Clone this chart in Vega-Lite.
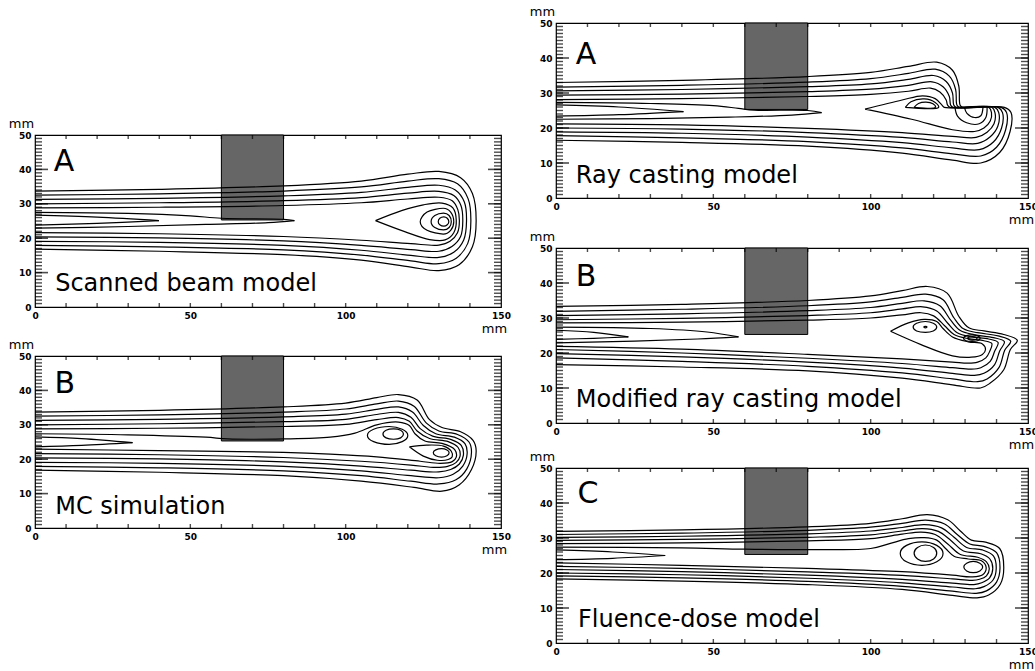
{
"$schema":"https://vega.github.io/schema/vega-lite/v6.json",
"background":"white",
"padding":{"left":7,"top":4,"right":0,"bottom":0},
"spacing":17,
"datasets":{
"coll":[{"x1":60,"x2":80,"y1":25.3,"y2":50}],
"yt":[{"v":1},{"v":2},{"v":3},{"v":4},{"v":5},{"v":6},{"v":7},{"v":8},{"v":9},{"v":10},{"v":11},{"v":12},{"v":13},{"v":14},{"v":15},{"v":16},{"v":17},{"v":18},{"v":19},{"v":20},{"v":21},{"v":22},{"v":23},{"v":24},{"v":25},{"v":26},{"v":27},{"v":28},{"v":29},{"v":30},{"v":31},{"v":32},{"v":33},{"v":34},{"v":35},{"v":36},{"v":37},{"v":38},{"v":39},{"v":40},{"v":41},{"v":42},{"v":43},{"v":44},{"v":45},{"v":46},{"v":47},{"v":48},{"v":49}],
"ym":[{"v":10},{"v":20},{"v":30},{"v":40}],
"xt":[{"v":10},{"v":20},{"v":30},{"v":40},{"v":50},{"v":60},{"v":70},{"v":80},{"v":90},{"v":100},{"v":110},{"v":120},{"v":130},{"v":140}],
"lab":[
{"p":"sb","k":"big","t":"A","x":6,"y":39.6},{"p":"sb","k":"name","t":"Scanned beam model","x":6.5,"y":4.6},
{"p":"mc","k":"big","t":"B","x":6.3,"y":39.2},{"p":"mc","k":"name","t":"MC simulation","x":6.5,"y":4.1},
{"p":"rc","k":"big","t":"A","x":6.3,"y":38.3},{"p":"rc","k":"name","t":"Ray casting model","x":6.3,"y":4.3},
{"p":"mr","k":"big","t":"B","x":6.3,"y":39.2},{"p":"mr","k":"name","t":"Modified ray casting model","x":6.3,"y":4.6},
{"p":"fd","k":"big","t":"C","x":6.8,"y":40},{"p":"fd","k":"name","t":"Fluence-dose model","x":7,"y":4.6}],
"sbO":[
{"c":1,"x":0,"y":33.7},{"c":1,"x":40,"y":34.2},{"c":1,"x":80,"y":35.2},{"c":1,"x":105,"y":36.6},{"c":1,"x":120,"y":38.6},{"c":1,"x":130,"y":39.4},{"c":1,"x":137,"y":37.6},{"c":1,"x":140.8,"y":33},{"c":1,"x":142,"y":25},{"c":1,"x":140.8,"y":17.5},{"c":1,"x":136.5,"y":12.3},{"c":1,"x":130,"y":10.6},{"c":1,"x":121,"y":11.6},{"c":1,"x":105,"y":13.6},{"c":1,"x":80,"y":15.2},{"c":1,"x":40,"y":16.2},{"c":1,"x":0,"y":16.8},
{"c":2,"x":0,"y":32.5},{"c":2,"x":40,"y":32.9},{"c":2,"x":80,"y":33.7},{"c":2,"x":105,"y":34.9},{"c":2,"x":120,"y":36.6},{"c":2,"x":130,"y":37.3},{"c":2,"x":136,"y":35.8},{"c":2,"x":139.4,"y":31.5},{"c":2,"x":140.3,"y":25},{"c":2,"x":139.3,"y":18.5},{"c":2,"x":135.6,"y":14.2},{"c":2,"x":130,"y":12.6},{"c":2,"x":121,"y":13.4},{"c":2,"x":105,"y":15.1},{"c":2,"x":80,"y":16.6},{"c":2,"x":40,"y":17.5},{"c":2,"x":0,"y":17.9},
{"c":3,"x":0,"y":31.3},{"c":3,"x":40,"y":31.6},{"c":3,"x":80,"y":32.3},{"c":3,"x":105,"y":33.3},{"c":3,"x":120,"y":34.8},{"c":3,"x":130,"y":35.4},{"c":3,"x":135.3,"y":34},{"c":3,"x":138.2,"y":30.5},{"c":3,"x":138.9,"y":25},{"c":3,"x":138,"y":19.5},{"c":3,"x":134.8,"y":15.9},{"c":3,"x":130,"y":14.4},{"c":3,"x":121,"y":15},{"c":3,"x":105,"y":16.5},{"c":3,"x":80,"y":17.9},{"c":3,"x":40,"y":18.8},{"c":3,"x":0,"y":19.1},
{"c":4,"x":0,"y":30},{"c":4,"x":40,"y":30.3},{"c":4,"x":80,"y":30.9},{"c":4,"x":105,"y":31.8},{"c":4,"x":120,"y":33.1},{"c":4,"x":130,"y":33.6},{"c":4,"x":134.8,"y":32.4},{"c":4,"x":137.1,"y":29.5},{"c":4,"x":137.7,"y":25},{"c":4,"x":137,"y":20.5},{"c":4,"x":134.2,"y":17.6},{"c":4,"x":130,"y":16.2},{"c":4,"x":121,"y":16.7},{"c":4,"x":105,"y":17.9},{"c":4,"x":80,"y":19.2},{"c":4,"x":40,"y":20.1},{"c":4,"x":0,"y":20.4},
{"c":5,"x":0,"y":28.8},{"c":5,"x":40,"y":29},{"c":5,"x":80,"y":29.5},{"c":5,"x":105,"y":30.3},{"c":5,"x":120,"y":31.4},{"c":5,"x":130,"y":31.9},{"c":5,"x":134.3,"y":30.9},{"c":5,"x":136.1,"y":28.3},{"c":5,"x":136.6,"y":25},{"c":5,"x":136,"y":21.6},{"c":5,"x":133.6,"y":19.1},{"c":5,"x":130,"y":18},{"c":5,"x":121,"y":18.4},{"c":5,"x":105,"y":19.4},{"c":5,"x":80,"y":20.5},{"c":5,"x":40,"y":21.3},{"c":5,"x":0,"y":21.6},
{"c":6,"x":0,"y":27.5},{"c":6,"x":30,"y":27.2},{"c":6,"x":50,"y":26.5},{"c":6,"x":60,"y":25.8},{"c":6,"x":80,"y":25.5},{"c":6,"x":83.5,"y":25.1},
{"c":7,"x":83.5,"y":25.1},{"c":7,"x":75,"y":24.5},{"c":7,"x":55,"y":24},{"c":7,"x":30,"y":23.4},{"c":7,"x":0,"y":22.9},
{"c":8,"x":0,"y":26.7},{"c":8,"x":20,"y":26.1},{"c":8,"x":39.9,"y":25.1},
{"c":9,"x":39.9,"y":25.1},{"c":9,"x":20,"y":24.3},{"c":9,"x":0,"y":23.8},
{"c":10,"x":109.6,"y":25.1},{"c":10,"x":118,"y":28},{"c":10,"x":125,"y":29.7},{"c":10,"x":131,"y":30.2},{"c":10,"x":134.5,"y":28.8},{"c":10,"x":135.6,"y":25.2},{"c":10,"x":134.8,"y":21.6},{"c":10,"x":132,"y":19.5},{"c":10,"x":127,"y":19.6},{"c":10,"x":119,"y":21.9},{"c":10,"x":109.6,"y":25.1}],
"sbR":[
{"c":1,"x":134.8,"y":24.8},{"c":1,"x":133.8,"y":27.6},{"c":1,"x":131.4,"y":28.7},{"c":1,"x":126.2,"y":27.6},{"c":1,"x":124,"y":24.8},{"c":1,"x":126.2,"y":22.3},{"c":1,"x":131.4,"y":21.2},{"c":1,"x":133.8,"y":22.3},
{"c":2,"x":134,"y":24.8},{"c":2,"x":133.3,"y":26.6},{"c":2,"x":131.5,"y":27.3},{"c":2,"x":128.7,"y":26.6},{"c":2,"x":127.5,"y":24.8},{"c":2,"x":128.7,"y":23.1},{"c":2,"x":131.5,"y":22.4},{"c":2,"x":133.3,"y":23.1},
{"c":3,"x":133.2,"y":24.8},{"c":3,"x":132.7,"y":25.8},{"c":3,"x":131.6,"y":26.2},{"c":3,"x":130.3,"y":25.8},{"c":3,"x":129.8,"y":24.8},{"c":3,"x":130.3,"y":23.9},{"c":3,"x":131.6,"y":23.5},{"c":3,"x":132.7,"y":23.9}],
"mcO":[
{"c":1,"x":0,"y":33.7},{"c":1,"x":40,"y":34.2},{"c":1,"x":80,"y":35.2},{"c":1,"x":100,"y":36.3},{"c":1,"x":110,"y":37.9},{"c":1,"x":117,"y":38.8},{"c":1,"x":123,"y":37.2},{"c":1,"x":127,"y":31.5},{"c":1,"x":131,"y":29.2},{"c":1,"x":137,"y":28},{"c":1,"x":141,"y":25.5},{"c":1,"x":142,"y":22.5},{"c":1,"x":140.5,"y":17},{"c":1,"x":136.5,"y":12.5},{"c":1,"x":131,"y":10.7},{"c":1,"x":122,"y":11.8},{"c":1,"x":105,"y":13.6},{"c":1,"x":80,"y":15.2},{"c":1,"x":40,"y":16.2},{"c":1,"x":0,"y":16.8},
{"c":2,"x":0,"y":32.5},{"c":2,"x":40,"y":32.9},{"c":2,"x":80,"y":33.7},{"c":2,"x":100,"y":34.6},{"c":2,"x":110,"y":36.1},{"c":2,"x":117,"y":36.9},{"c":2,"x":122,"y":35.4},{"c":2,"x":126,"y":30.5},{"c":2,"x":130,"y":28.2},{"c":2,"x":136,"y":27.2},{"c":2,"x":139.7,"y":25},{"c":2,"x":140.5,"y":22},{"c":2,"x":139,"y":17.2},{"c":2,"x":135.5,"y":14},{"c":2,"x":130,"y":12.8},{"c":2,"x":121,"y":13.6},{"c":2,"x":105,"y":15.2},{"c":2,"x":80,"y":16.6},{"c":2,"x":40,"y":17.5},{"c":2,"x":0,"y":17.9},
{"c":3,"x":0,"y":31.3},{"c":3,"x":40,"y":31.6},{"c":3,"x":80,"y":32.3},{"c":3,"x":100,"y":33.1},{"c":3,"x":110,"y":34.5},{"c":3,"x":117,"y":35.2},{"c":3,"x":121.5,"y":33.7},{"c":3,"x":125,"y":29.8},{"c":3,"x":129,"y":27.4},{"c":3,"x":135,"y":26.4},{"c":3,"x":138.4,"y":24.5},{"c":3,"x":139.1,"y":21.6},{"c":3,"x":137.7,"y":18},{"c":3,"x":134.6,"y":15.6},{"c":3,"x":130,"y":14.6},{"c":3,"x":121,"y":15.2},{"c":3,"x":105,"y":16.6},{"c":3,"x":80,"y":17.9},{"c":3,"x":40,"y":18.8},{"c":3,"x":0,"y":19.1},
{"c":4,"x":0,"y":30},{"c":4,"x":40,"y":30.3},{"c":4,"x":80,"y":30.9},{"c":4,"x":100,"y":31.6},{"c":4,"x":110,"y":33},{"c":4,"x":117,"y":33.6},{"c":4,"x":121,"y":32.2},{"c":4,"x":124,"y":28.9},{"c":4,"x":128,"y":26.7},{"c":4,"x":134,"y":25.7},{"c":4,"x":137.2,"y":24},{"c":4,"x":137.9,"y":21.2},{"c":4,"x":136.6,"y":18.6},{"c":4,"x":133.8,"y":17},{"c":4,"x":130,"y":16.3},{"c":4,"x":121,"y":16.8},{"c":4,"x":105,"y":18},{"c":4,"x":80,"y":19.2},{"c":4,"x":40,"y":20.1},{"c":4,"x":0,"y":20.4},
{"c":5,"x":0,"y":28.8},{"c":5,"x":40,"y":29},{"c":5,"x":80,"y":29.5},{"c":5,"x":100,"y":30.1},{"c":5,"x":110,"y":31.5},{"c":5,"x":117,"y":32.1},{"c":5,"x":120.5,"y":31},{"c":5,"x":123,"y":28.2},{"c":5,"x":127,"y":26},{"c":5,"x":133,"y":25.1},{"c":5,"x":136.2,"y":23.4},{"c":5,"x":136.8,"y":20.8},{"c":5,"x":135.5,"y":19},{"c":5,"x":132.8,"y":17.9},{"c":5,"x":129,"y":17.6},{"c":5,"x":121,"y":18.3},{"c":5,"x":105,"y":19.4},{"c":5,"x":80,"y":20.5},{"c":5,"x":40,"y":21.3},{"c":5,"x":0,"y":21.6},
{"c":6,"x":0,"y":27.4},{"c":6,"x":30,"y":27.1},{"c":6,"x":55,"y":26.4},{"c":6,"x":62,"y":25.9},{"c":6,"x":80,"y":25.9},{"c":6,"x":95,"y":26.4},{"c":6,"x":103,"y":27.6},{"c":6,"x":110,"y":30},{"c":6,"x":117,"y":30.8},{"c":6,"x":120.5,"y":29.8},{"c":6,"x":122.3,"y":27.4},{"c":6,"x":125.5,"y":25.3},{"c":6,"x":131,"y":24.6},{"c":6,"x":135.1,"y":22.8},{"c":6,"x":135.6,"y":20.6},{"c":6,"x":134.3,"y":19.3},{"c":6,"x":130.5,"y":18.8},{"c":6,"x":124,"y":19.4},{"c":6,"x":110,"y":20.7},{"c":6,"x":95,"y":21.5},{"c":6,"x":80,"y":22},{"c":6,"x":40,"y":22.5},{"c":6,"x":0,"y":22.9},
{"c":7,"x":0,"y":26.5},{"c":7,"x":15,"y":26},{"c":7,"x":31.4,"y":24.8},
{"c":8,"x":31.4,"y":24.8},{"c":8,"x":15,"y":24},{"c":8,"x":0,"y":23.6},
{"c":9,"x":120.5,"y":23.6},{"c":9,"x":126,"y":24.1},{"c":9,"x":131.5,"y":23.8},{"c":9,"x":134,"y":22.3},{"c":9,"x":134.3,"y":20.7},{"c":9,"x":133,"y":19.9},{"c":9,"x":129.5,"y":19.7},{"c":9,"x":125,"y":20.9},{"c":9,"x":120.5,"y":23.6}],
"mcR":[
{"c":1,"x":120,"y":26.9},{"c":1,"x":118.2,"y":28.7},{"c":1,"x":114,"y":29.5},{"c":1,"x":109,"y":28.7},{"c":1,"x":107,"y":26.9},{"c":1,"x":109,"y":25.1},{"c":1,"x":114,"y":24.3},{"c":1,"x":118.2,"y":25.1},
{"c":2,"x":118.6,"y":27.3},{"c":2,"x":117.7,"y":28.4},{"c":2,"x":115.4,"y":28.8},{"c":2,"x":113,"y":28.4},{"c":2,"x":112,"y":27.3},{"c":2,"x":113,"y":26.2},{"c":2,"x":115.4,"y":25.8},{"c":2,"x":117.7,"y":26.2},
{"c":3,"x":133.3,"y":21.9},{"c":3,"x":132.6,"y":22.7},{"c":3,"x":130.9,"y":23.1},{"c":3,"x":129,"y":22.7},{"c":3,"x":128.2,"y":21.9},{"c":3,"x":129,"y":21},{"c":3,"x":130.9,"y":20.6},{"c":3,"x":132.6,"y":21}],
"rcO":[
{"c":1,"x":0,"y":33},{"c":1,"x":40,"y":33.6},{"c":1,"x":80,"y":34.7},{"c":1,"x":100,"y":35.9},{"c":1,"x":112,"y":37.6},{"c":1,"x":121,"y":38.8},{"c":1,"x":126,"y":36.5},{"c":1,"x":128,"y":32},{"c":1,"x":128.4,"y":26.6},{"c":1,"x":129.2,"y":25.9},{"c":1,"x":142.5,"y":25.9},{"c":1,"x":144.6,"y":24.4},{"c":1,"x":144.3,"y":19},{"c":1,"x":141,"y":13},{"c":1,"x":135,"y":10},{"c":1,"x":126,"y":10.8},{"c":1,"x":110,"y":12.8},{"c":1,"x":80,"y":14.8},{"c":1,"x":40,"y":15.9},{"c":1,"x":0,"y":16.5},
{"c":2,"x":0,"y":31.7},{"c":2,"x":40,"y":32.2},{"c":2,"x":80,"y":33.1},{"c":2,"x":100,"y":34.1},{"c":2,"x":112,"y":35.6},{"c":2,"x":120.5,"y":36.8},{"c":2,"x":125,"y":34.8},{"c":2,"x":127,"y":31},{"c":2,"x":127.4,"y":26.6},{"c":2,"x":128.2,"y":25.9},{"c":2,"x":141.5,"y":25.9},{"c":2,"x":143.2,"y":24.4},{"c":2,"x":142.9,"y":19.5},{"c":2,"x":140,"y":14.5},{"c":2,"x":135,"y":12},{"c":2,"x":126,"y":12.6},{"c":2,"x":110,"y":14.3},{"c":2,"x":80,"y":16.1},{"c":2,"x":40,"y":17.2},{"c":2,"x":0,"y":17.8},
{"c":3,"x":0,"y":30.6},{"c":3,"x":40,"y":31},{"c":3,"x":80,"y":31.8},{"c":3,"x":100,"y":32.6},{"c":3,"x":112,"y":33.9},{"c":3,"x":120,"y":35},{"c":3,"x":124,"y":33.3},{"c":3,"x":126,"y":30},{"c":3,"x":126.4,"y":26.6},{"c":3,"x":127.2,"y":25.9},{"c":3,"x":140.5,"y":25.9},{"c":3,"x":141.9,"y":24.4},{"c":3,"x":141.6,"y":20},{"c":3,"x":139,"y":16},{"c":3,"x":134.5,"y":13.8},{"c":3,"x":126,"y":14.3},{"c":3,"x":110,"y":15.8},{"c":3,"x":80,"y":17.4},{"c":3,"x":40,"y":18.5},{"c":3,"x":0,"y":18.9},
{"c":4,"x":0,"y":29.4},{"c":4,"x":40,"y":29.7},{"c":4,"x":80,"y":30.4},{"c":4,"x":100,"y":31.1},{"c":4,"x":112,"y":32.2},{"c":4,"x":119.5,"y":33.2},{"c":4,"x":123,"y":31.8},{"c":4,"x":125,"y":29},{"c":4,"x":125.4,"y":26.6},{"c":4,"x":126.2,"y":25.9},{"c":4,"x":139.5,"y":25.9},{"c":4,"x":140.7,"y":24.4},{"c":4,"x":140.4,"y":20.5},{"c":4,"x":138,"y":17.5},{"c":4,"x":134,"y":15.6},{"c":4,"x":126,"y":16},{"c":4,"x":110,"y":17.3},{"c":4,"x":80,"y":18.7},{"c":4,"x":40,"y":19.7},{"c":4,"x":0,"y":20},
{"c":5,"x":0,"y":28.1},{"c":5,"x":40,"y":28.4},{"c":5,"x":80,"y":29},{"c":5,"x":100,"y":29.6},{"c":5,"x":112,"y":30.5},{"c":5,"x":119,"y":31.4},{"c":5,"x":122,"y":30.3},{"c":5,"x":124,"y":28},{"c":5,"x":124.4,"y":26.6},{"c":5,"x":125.2,"y":25.9},{"c":5,"x":138.5,"y":25.9},{"c":5,"x":139.5,"y":24.4},{"c":5,"x":139.2,"y":21.2},{"c":5,"x":137,"y":18.8},{"c":5,"x":133.5,"y":17.3},{"c":5,"x":126,"y":17.6},{"c":5,"x":110,"y":18.7},{"c":5,"x":80,"y":19.9},{"c":5,"x":40,"y":20.9},{"c":5,"x":0,"y":21.2},
{"c":6,"x":0,"y":27.3},{"c":6,"x":30,"y":27},{"c":6,"x":50,"y":26.4},{"c":6,"x":58,"y":25.6},{"c":6,"x":63,"y":25.1},{"c":6,"x":80,"y":25},{"c":6,"x":84.4,"y":24.4},
{"c":7,"x":84.4,"y":24.4},{"c":7,"x":75,"y":23.7},{"c":7,"x":55,"y":23.1},{"c":7,"x":30,"y":22.7},{"c":7,"x":0,"y":22.5},
{"c":8,"x":0,"y":26.6},{"c":8,"x":20,"y":26},{"c":8,"x":40.5,"y":24.7},
{"c":9,"x":40.5,"y":24.7},{"c":9,"x":20,"y":23.8},{"c":9,"x":0,"y":23.4},
{"c":10,"x":98.2,"y":25.4},{"c":10,"x":110,"y":28},{"c":10,"x":116.5,"y":29.2},{"c":10,"x":120.5,"y":28.4},{"c":10,"x":122.6,"y":26.6},{"c":10,"x":123.4,"y":25.9},{"c":10,"x":137.5,"y":25.9},{"c":10,"x":138.4,"y":24.4},{"c":10,"x":138,"y":22},{"c":10,"x":136,"y":20},{"c":10,"x":133,"y":19},{"c":10,"x":126,"y":19.5},{"c":10,"x":113,"y":22.5},{"c":10,"x":98.2,"y":25.4},
{"c":11,"x":111,"y":25.9},{"c":11,"x":112.8,"y":27.5},{"c":11,"x":117,"y":28.3},{"c":11,"x":120.5,"y":27.3},{"c":11,"x":121.6,"y":25.9},{"c":11,"x":111,"y":25.9},
{"c":12,"x":113.8,"y":25.9},{"c":12,"x":115.2,"y":27},{"c":12,"x":117.6,"y":27.4},{"c":12,"x":119.8,"y":26.9},{"c":12,"x":120.6,"y":25.9},{"c":12,"x":113.8,"y":25.9},
{"c":13,"x":126.8,"y":25.9},{"c":13,"x":127.6,"y":23.4},{"c":13,"x":130.5,"y":21.5},{"c":13,"x":134.5,"y":21.2},{"c":13,"x":136.6,"y":23},{"c":13,"x":137,"y":25.9},
{"c":14,"x":129.8,"y":25.9},{"c":14,"x":130.6,"y":24.2},{"c":14,"x":133,"y":23},{"c":14,"x":135,"y":23.5},{"c":14,"x":135.7,"y":25.9}],
"mrO":[
{"c":1,"x":0,"y":33.3},{"c":1,"x":40,"y":33.9},{"c":1,"x":80,"y":35},{"c":1,"x":100,"y":36.3},{"c":1,"x":110,"y":37.8},{"c":1,"x":118,"y":39},{"c":1,"x":124.3,"y":37.1},{"c":1,"x":128,"y":30.5},{"c":1,"x":131.2,"y":27.2},{"c":1,"x":136,"y":26.3},{"c":1,"x":142.3,"y":25.3},{"c":1,"x":146.6,"y":23.6},{"c":1,"x":144.4,"y":21},{"c":1,"x":142.3,"y":15.2},{"c":1,"x":138,"y":11.4},{"c":1,"x":134.9,"y":10},{"c":1,"x":126,"y":10.9},{"c":1,"x":110,"y":12.8},{"c":1,"x":80,"y":14.9},{"c":1,"x":40,"y":16},{"c":1,"x":0,"y":16.7},
{"c":2,"x":0,"y":31.9},{"c":2,"x":40,"y":32.5},{"c":2,"x":80,"y":33.5},{"c":2,"x":100,"y":34.6},{"c":2,"x":110,"y":35.9},{"c":2,"x":117.5,"y":36.8},{"c":2,"x":123,"y":35.2},{"c":2,"x":126.5,"y":30},{"c":2,"x":129.5,"y":26.9},{"c":2,"x":134,"y":25.8},{"c":2,"x":140.5,"y":24.9},{"c":2,"x":144.5,"y":23.4},{"c":2,"x":142.6,"y":20.8},{"c":2,"x":140.8,"y":15.9},{"c":2,"x":137,"y":12.6},{"c":2,"x":134,"y":11.8},{"c":2,"x":126,"y":12.6},{"c":2,"x":110,"y":14.3},{"c":2,"x":80,"y":16.2},{"c":2,"x":40,"y":17.6},{"c":2,"x":0,"y":18.6},
{"c":3,"x":0,"y":30.7},{"c":3,"x":40,"y":31.2},{"c":3,"x":80,"y":32.1},{"c":3,"x":100,"y":33},{"c":3,"x":110,"y":34.2},{"c":3,"x":117,"y":34.9},{"c":3,"x":122,"y":33.5},{"c":3,"x":125.5,"y":29.3},{"c":3,"x":128.5,"y":26.4},{"c":3,"x":133,"y":25.2},{"c":3,"x":139,"y":24.4},{"c":3,"x":142.5,"y":23.2},{"c":3,"x":141,"y":20.6},{"c":3,"x":139.4,"y":16.7},{"c":3,"x":136,"y":14.2},{"c":3,"x":133,"y":13.6},{"c":3,"x":126,"y":14.2},{"c":3,"x":110,"y":15.7},{"c":3,"x":80,"y":17.4},{"c":3,"x":40,"y":18.9},{"c":3,"x":0,"y":19.8},
{"c":4,"x":0,"y":29.5},{"c":4,"x":40,"y":29.9},{"c":4,"x":80,"y":30.7},{"c":4,"x":100,"y":31.5},{"c":4,"x":110,"y":32.6},{"c":4,"x":116.5,"y":33.2},{"c":4,"x":121,"y":32},{"c":4,"x":124.5,"y":28.5},{"c":4,"x":127.5,"y":25.8},{"c":4,"x":132,"y":24.6},{"c":4,"x":137.5,"y":24},{"c":4,"x":140.5,"y":23},{"c":4,"x":139.4,"y":20.5},{"c":4,"x":138,"y":17.6},{"c":4,"x":135,"y":15.8},{"c":4,"x":132,"y":15.4},{"c":4,"x":126,"y":15.8},{"c":4,"x":110,"y":17},{"c":4,"x":80,"y":18.5},{"c":4,"x":40,"y":20},{"c":4,"x":0,"y":21},
{"c":5,"x":0,"y":28.6},{"c":5,"x":40,"y":28.8},{"c":5,"x":80,"y":29.4},{"c":5,"x":100,"y":30},{"c":5,"x":110,"y":30.9},{"c":5,"x":116,"y":31.5},{"c":5,"x":120,"y":30.6},{"c":5,"x":123.5,"y":27.8},{"c":5,"x":126.5,"y":25.3},{"c":5,"x":131,"y":24.1},{"c":5,"x":136,"y":23.5},{"c":5,"x":138.5,"y":22.7},{"c":5,"x":137.8,"y":20.4},{"c":5,"x":136.6,"y":18.6},{"c":5,"x":134,"y":17.4},{"c":5,"x":131,"y":17.1},{"c":5,"x":126,"y":17.4},{"c":5,"x":110,"y":18.3},{"c":5,"x":80,"y":19.6},{"c":5,"x":40,"y":21.1},{"c":5,"x":0,"y":21.9},
{"c":6,"x":0,"y":27.4},{"c":6,"x":30,"y":27},{"c":6,"x":48,"y":26},{"c":6,"x":58,"y":24.6},
{"c":7,"x":58,"y":24.6},{"c":7,"x":45,"y":24},{"c":7,"x":25,"y":23.4},{"c":7,"x":0,"y":22.9},
{"c":8,"x":0,"y":26.5},{"c":8,"x":12,"y":25.9},{"c":8,"x":23,"y":24.6},
{"c":9,"x":23,"y":24.6},{"c":9,"x":12,"y":24.2},{"c":9,"x":0,"y":23.9},
{"c":10,"x":106.3,"y":26.2},{"c":10,"x":112,"y":28.6},{"c":10,"x":117,"y":29.6},{"c":10,"x":121,"y":29},{"c":10,"x":123,"y":27},{"c":10,"x":126,"y":24.6},{"c":10,"x":131,"y":23.2},{"c":10,"x":135.5,"y":22.6},{"c":10,"x":136.5,"y":21},{"c":10,"x":135.5,"y":19.6},{"c":10,"x":132,"y":18.8},{"c":10,"x":126,"y":19.2},{"c":10,"x":116,"y":22.4},{"c":10,"x":106.3,"y":26.2}],
"mrR":[
{"c":1,"x":121,"y":27.4},{"c":1,"x":119.9,"y":28.5},{"c":1,"x":117.4,"y":29},{"c":1,"x":114.6,"y":28.5},{"c":1,"x":113.5,"y":27.4},{"c":1,"x":114.6,"y":26.3},{"c":1,"x":117.4,"y":25.9},{"c":1,"x":119.9,"y":26.3},
{"c":2,"x":117.9,"y":27.4},{"c":2,"x":117.4,"y":27.6},{"c":2,"x":116.9,"y":27.4},{"c":2,"x":117.4,"y":27.2},
{"c":3,"x":134.8,"y":24.2},{"c":3,"x":134,"y":24.9},{"c":3,"x":132.2,"y":25.2},{"c":3,"x":130.3,"y":24.9},{"c":3,"x":129.5,"y":24.2},{"c":3,"x":130.3,"y":23.5},{"c":3,"x":132.2,"y":23.3},{"c":3,"x":134,"y":23.5},
{"c":4,"x":133.8,"y":24.2},{"c":4,"x":133.4,"y":24.55},{"c":4,"x":132.3,"y":24.7},{"c":4,"x":131.2,"y":24.55},{"c":4,"x":130.8,"y":24.2},{"c":4,"x":131.2,"y":23.85},{"c":4,"x":132.3,"y":23.7},{"c":4,"x":133.4,"y":23.85}],
"fdO":[
{"c":1,"x":0,"y":31.9},{"c":1,"x":40,"y":32.3},{"c":1,"x":80,"y":33.2},{"c":1,"x":100,"y":34.2},{"c":1,"x":110,"y":35.5},{"c":1,"x":118,"y":36.7},{"c":1,"x":124.5,"y":35.2},{"c":1,"x":128.5,"y":32},{"c":1,"x":132,"y":29.4},{"c":1,"x":136.5,"y":28.8},{"c":1,"x":141,"y":27},{"c":1,"x":142.3,"y":21.5},{"c":1,"x":141.2,"y":16.8},{"c":1,"x":137.5,"y":13.7},{"c":1,"x":133.8,"y":12.9},{"c":1,"x":126,"y":13.6},{"c":1,"x":110,"y":15.3},{"c":1,"x":80,"y":16.7},{"c":1,"x":40,"y":17.7},{"c":1,"x":0,"y":18.3},
{"c":2,"x":0,"y":31},{"c":2,"x":40,"y":31.4},{"c":2,"x":80,"y":32.2},{"c":2,"x":100,"y":33.1},{"c":2,"x":110,"y":34.2},{"c":2,"x":117.5,"y":35.1},{"c":2,"x":123.5,"y":34},{"c":2,"x":127.5,"y":31},{"c":2,"x":131.5,"y":28.3},{"c":2,"x":136,"y":27.6},{"c":2,"x":140,"y":25.8},{"c":2,"x":141.1,"y":21.4},{"c":2,"x":140,"y":17.4},{"c":2,"x":136.8,"y":14.9},{"c":2,"x":133.5,"y":14.2},{"c":2,"x":126,"y":14.8},{"c":2,"x":110,"y":16.2},{"c":2,"x":80,"y":17.6},{"c":2,"x":40,"y":18.6},{"c":2,"x":0,"y":19.2},
{"c":3,"x":0,"y":30.2},{"c":3,"x":40,"y":30.5},{"c":3,"x":80,"y":31.2},{"c":3,"x":100,"y":32},{"c":3,"x":110,"y":33},{"c":3,"x":117,"y":33.8},{"c":3,"x":122.5,"y":32.9},{"c":3,"x":126.5,"y":30.2},{"c":3,"x":130.5,"y":27.3},{"c":3,"x":135.5,"y":26.6},{"c":3,"x":139,"y":24.9},{"c":3,"x":139.9,"y":21.3},{"c":3,"x":138.9,"y":18},{"c":3,"x":136,"y":16.1},{"c":3,"x":133.2,"y":15.5},{"c":3,"x":126,"y":16},{"c":3,"x":110,"y":17.2},{"c":3,"x":80,"y":18.5},{"c":3,"x":40,"y":19.5},{"c":3,"x":0,"y":20},
{"c":4,"x":0,"y":29.3},{"c":4,"x":40,"y":29.6},{"c":4,"x":80,"y":30.2},{"c":4,"x":100,"y":30.9},{"c":4,"x":110,"y":32},{"c":4,"x":116.5,"y":32.7},{"c":4,"x":121.5,"y":31.9},{"c":4,"x":125.5,"y":29.3},{"c":4,"x":129.5,"y":26.3},{"c":4,"x":135,"y":25.5},{"c":4,"x":137.9,"y":24},{"c":4,"x":138.8,"y":21.2},{"c":4,"x":137.8,"y":18.6},{"c":4,"x":135.3,"y":17.2},{"c":4,"x":132.8,"y":16.7},{"c":4,"x":126,"y":17.1},{"c":4,"x":110,"y":18.2},{"c":4,"x":80,"y":19.4},{"c":4,"x":40,"y":20.4},{"c":4,"x":0,"y":21},
{"c":5,"x":0,"y":28.4},{"c":5,"x":40,"y":28.6},{"c":5,"x":80,"y":29.2},{"c":5,"x":100,"y":29.8},{"c":5,"x":110,"y":31.1},{"c":5,"x":116,"y":31.7},{"c":5,"x":120.5,"y":31},{"c":5,"x":124.5,"y":28.3},{"c":5,"x":128.5,"y":25.3},{"c":5,"x":134,"y":24.5},{"c":5,"x":136.8,"y":23.2},{"c":5,"x":137.7,"y":21.2},{"c":5,"x":136.8,"y":19.2},{"c":5,"x":134.6,"y":18.2},{"c":5,"x":132.3,"y":17.9},{"c":5,"x":126,"y":18.3},{"c":5,"x":110,"y":19.3},{"c":5,"x":80,"y":20.3},{"c":5,"x":40,"y":21.3},{"c":5,"x":0,"y":21.9},
{"c":6,"x":0,"y":27.4},{"c":6,"x":40,"y":27.2},{"c":6,"x":60,"y":26.8},{"c":6,"x":80,"y":26.7},{"c":6,"x":100,"y":27},{"c":6,"x":106,"y":28.4},{"c":6,"x":112,"y":29.8},{"c":6,"x":117,"y":30.1},{"c":6,"x":121,"y":29.4},{"c":6,"x":123.8,"y":27},{"c":6,"x":126.5,"y":24.8},{"c":6,"x":131,"y":24},{"c":6,"x":135.2,"y":23.5},{"c":6,"x":136.7,"y":21.6},{"c":6,"x":135.6,"y":19.5},{"c":6,"x":132,"y":18.9},{"c":6,"x":126,"y":19.4},{"c":6,"x":110,"y":20.4},{"c":6,"x":80,"y":21.3},{"c":6,"x":40,"y":22.2},{"c":6,"x":0,"y":22.9},
{"c":7,"x":0,"y":26.6},{"c":7,"x":18,"y":26},{"c":7,"x":34.7,"y":25},
{"c":8,"x":34.7,"y":25},{"c":8,"x":18,"y":24.2},{"c":8,"x":0,"y":23.8}],
"fdR":[
{"c":1,"x":123,"y":25.6},{"c":1,"x":121,"y":27.9},{"c":1,"x":116.3,"y":28.9},{"c":1,"x":111.4,"y":27.9},{"c":1,"x":109.4,"y":25.6},{"c":1,"x":111.4,"y":23.2},{"c":1,"x":116.3,"y":22.2},{"c":1,"x":121,"y":23.2},
{"c":2,"x":121,"y":25.7},{"c":2,"x":120,"y":27.3},{"c":2,"x":117.4,"y":28},{"c":2,"x":114.9,"y":27.3},{"c":2,"x":113.8,"y":25.7},{"c":2,"x":114.9,"y":24},{"c":2,"x":117.4,"y":23.3},{"c":2,"x":120,"y":24},
{"c":3,"x":135.6,"y":21.7},{"c":3,"x":134.7,"y":22.8},{"c":3,"x":132.6,"y":23.3},{"c":3,"x":130.5,"y":22.8},{"c":3,"x":129.6,"y":21.7},{"c":3,"x":130.5,"y":20.6},{"c":3,"x":132.6,"y":20.1},{"c":3,"x":134.7,"y":20.6}]
},
"hconcat":[
{"vconcat":[
{"data":{"values":[]},"mark":{"type":"point","opacity":0},"encoding":{},"width":10,"height":63,"view":{"stroke":null}},
{"width":466,"height":172,"layer":[
{"data":{"name":"coll"},"mark":{"type":"rect","fill":"#666666","stroke":"#000","strokeWidth":1},"encoding":{"x":{"field":"x1","type":"quantitative","scale":{"domain":[0,150],"nice":false,"zero":false},"axis":{"orient":"bottom","values":[0,50,100,150],"ticks":false,"domain":false,"grid":false,"labelPadding":4,"title":"mm","titleX":459,"titleY":21,"titleAlign":"center","titleBaseline":"middle"}},"x2":{"field":"x2"},"y":{"field":"y1","type":"quantitative","scale":{"domain":[0,50],"nice":false,"zero":false},"axis":{"orient":"left","values":[0,10,20,30,40,50],"ticks":false,"domain":false,"grid":false,"labelPadding":4,"title":"mm","titleAngle":0,"titleX":-14,"titleY":-12,"titleAlign":"center","titleBaseline":"middle"}},"y2":{"field":"y2"}}},
{"data":{"name":"sbO"},"mark":{"type":"line","interpolate":"catmull-rom","color":"#000","strokeWidth":1.2},"encoding":{"x":{"field":"x","type":"quantitative","scale":{"domain":[0,150],"nice":false,"zero":false},"axis":null},"y":{"field":"y","type":"quantitative","scale":{"domain":[0,50],"nice":false,"zero":false},"axis":null},"detail":{"field":"c","type":"nominal"},"order":{"value":null}}},
{"data":{"name":"sbR"},"mark":{"type":"line","interpolate":"cardinal-closed","color":"#000","strokeWidth":1.2},"encoding":{"x":{"field":"x","type":"quantitative","scale":{"domain":[0,150],"nice":false,"zero":false},"axis":null},"y":{"field":"y","type":"quantitative","scale":{"domain":[0,50],"nice":false,"zero":false},"axis":null},"detail":{"field":"c","type":"nominal"},"order":{"value":null}}},
{"data":{"name":"lab"},"transform":[{"filter":"datum.p==='sb'&&datum.k==='big'"}],"mark":{"type":"text","align":"left","baseline":"alphabetic","font":"DejaVu Sans","fontSize":30,"color":"#000"},"encoding":{"x":{"field":"x","type":"quantitative","scale":{"domain":[0,150],"nice":false,"zero":false},"axis":null},"y":{"field":"y","type":"quantitative","scale":{"domain":[0,50],"nice":false,"zero":false},"axis":null},"text":{"field":"t"}}},
{"data":{"name":"lab"},"transform":[{"filter":"datum.p==='sb'&&datum.k==='name'"}],"mark":{"type":"text","align":"left","baseline":"alphabetic","font":"DejaVu Sans","fontSize":24,"color":"#000"},"encoding":{"x":{"field":"x","type":"quantitative","scale":{"domain":[0,150],"nice":false,"zero":false},"axis":null},"y":{"field":"y","type":"quantitative","scale":{"domain":[0,50],"nice":false,"zero":false},"axis":null},"text":{"field":"t"}}},
{"data":{"name":"yt"},"mark":{"type":"tick","orient":"horizontal","size":7,"thickness":1.4,"color":"#000","xOffset":3.5},"encoding":{"x":{"datum":0,"type":"quantitative","scale":{"domain":[0,150],"nice":false,"zero":false},"axis":null},"y":{"field":"v","type":"quantitative","scale":{"domain":[0,50],"nice":false,"zero":false},"axis":null}}},
{"data":{"name":"yt"},"mark":{"type":"tick","orient":"horizontal","size":7,"thickness":1.4,"color":"#000","xOffset":-3.5},"encoding":{"x":{"datum":150,"type":"quantitative","scale":{"domain":[0,150],"nice":false,"zero":false},"axis":null},"y":{"field":"v","type":"quantitative","scale":{"domain":[0,50],"nice":false,"zero":false},"axis":null}}},
{"data":{"name":"ym"},"mark":{"type":"tick","orient":"horizontal","size":13,"thickness":1.6,"color":"#000","xOffset":6.5},"encoding":{"x":{"datum":0,"type":"quantitative","scale":{"domain":[0,150],"nice":false,"zero":false},"axis":null},"y":{"field":"v","type":"quantitative","scale":{"domain":[0,50],"nice":false,"zero":false},"axis":null}}},
{"data":{"name":"ym"},"mark":{"type":"tick","orient":"horizontal","size":13,"thickness":1.6,"color":"#000","xOffset":-6.5},"encoding":{"x":{"datum":150,"type":"quantitative","scale":{"domain":[0,150],"nice":false,"zero":false},"axis":null},"y":{"field":"v","type":"quantitative","scale":{"domain":[0,50],"nice":false,"zero":false},"axis":null}}},
{"data":{"name":"xt"},"mark":{"type":"tick","orient":"vertical","size":4,"thickness":1.4,"color":"#000","yOffset":2},"encoding":{"x":{"field":"v","type":"quantitative","scale":{"domain":[0,150],"nice":false,"zero":false},"axis":null},"y":{"datum":50,"type":"quantitative","scale":{"domain":[0,50],"nice":false,"zero":false},"axis":null}}},
{"data":{"name":"xt"},"mark":{"type":"tick","orient":"vertical","size":4,"thickness":1.4,"color":"#000","yOffset":-2},"encoding":{"x":{"field":"v","type":"quantitative","scale":{"domain":[0,150],"nice":false,"zero":false},"axis":null},"y":{"datum":0,"type":"quantitative","scale":{"domain":[0,50],"nice":false,"zero":false},"axis":null}}}
],"resolve":{"axis":{"x":"independent","y":"independent"}}},
{"width":466,"height":172,"layer":[
{"data":{"name":"coll"},"mark":{"type":"rect","fill":"#666666","stroke":"#000","strokeWidth":1},"encoding":{"x":{"field":"x1","type":"quantitative","scale":{"domain":[0,150],"nice":false,"zero":false},"axis":{"orient":"bottom","values":[0,50,100,150],"ticks":false,"domain":false,"grid":false,"labelPadding":4,"title":"mm","titleX":459,"titleY":21,"titleAlign":"center","titleBaseline":"middle"}},"x2":{"field":"x2"},"y":{"field":"y1","type":"quantitative","scale":{"domain":[0,50],"nice":false,"zero":false},"axis":{"orient":"left","values":[0,10,20,30,40,50],"ticks":false,"domain":false,"grid":false,"labelPadding":4,"title":"mm","titleAngle":0,"titleX":-14,"titleY":-12,"titleAlign":"center","titleBaseline":"middle"}},"y2":{"field":"y2"}}},
{"data":{"name":"mcO"},"mark":{"type":"line","interpolate":"catmull-rom","color":"#000","strokeWidth":1.2},"encoding":{"x":{"field":"x","type":"quantitative","scale":{"domain":[0,150],"nice":false,"zero":false},"axis":null},"y":{"field":"y","type":"quantitative","scale":{"domain":[0,50],"nice":false,"zero":false},"axis":null},"detail":{"field":"c","type":"nominal"},"order":{"value":null}}},
{"data":{"name":"mcR"},"mark":{"type":"line","interpolate":"cardinal-closed","color":"#000","strokeWidth":1.2},"encoding":{"x":{"field":"x","type":"quantitative","scale":{"domain":[0,150],"nice":false,"zero":false},"axis":null},"y":{"field":"y","type":"quantitative","scale":{"domain":[0,50],"nice":false,"zero":false},"axis":null},"detail":{"field":"c","type":"nominal"},"order":{"value":null}}},
{"data":{"name":"lab"},"transform":[{"filter":"datum.p==='mc'&&datum.k==='big'"}],"mark":{"type":"text","align":"left","baseline":"alphabetic","font":"DejaVu Sans","fontSize":30,"color":"#000"},"encoding":{"x":{"field":"x","type":"quantitative","scale":{"domain":[0,150],"nice":false,"zero":false},"axis":null},"y":{"field":"y","type":"quantitative","scale":{"domain":[0,50],"nice":false,"zero":false},"axis":null},"text":{"field":"t"}}},
{"data":{"name":"lab"},"transform":[{"filter":"datum.p==='mc'&&datum.k==='name'"}],"mark":{"type":"text","align":"left","baseline":"alphabetic","font":"DejaVu Sans","fontSize":24,"color":"#000"},"encoding":{"x":{"field":"x","type":"quantitative","scale":{"domain":[0,150],"nice":false,"zero":false},"axis":null},"y":{"field":"y","type":"quantitative","scale":{"domain":[0,50],"nice":false,"zero":false},"axis":null},"text":{"field":"t"}}},
{"data":{"name":"yt"},"mark":{"type":"tick","orient":"horizontal","size":7,"thickness":1.4,"color":"#000","xOffset":3.5},"encoding":{"x":{"datum":0,"type":"quantitative","scale":{"domain":[0,150],"nice":false,"zero":false},"axis":null},"y":{"field":"v","type":"quantitative","scale":{"domain":[0,50],"nice":false,"zero":false},"axis":null}}},
{"data":{"name":"yt"},"mark":{"type":"tick","orient":"horizontal","size":7,"thickness":1.4,"color":"#000","xOffset":-3.5},"encoding":{"x":{"datum":150,"type":"quantitative","scale":{"domain":[0,150],"nice":false,"zero":false},"axis":null},"y":{"field":"v","type":"quantitative","scale":{"domain":[0,50],"nice":false,"zero":false},"axis":null}}},
{"data":{"name":"ym"},"mark":{"type":"tick","orient":"horizontal","size":13,"thickness":1.6,"color":"#000","xOffset":6.5},"encoding":{"x":{"datum":0,"type":"quantitative","scale":{"domain":[0,150],"nice":false,"zero":false},"axis":null},"y":{"field":"v","type":"quantitative","scale":{"domain":[0,50],"nice":false,"zero":false},"axis":null}}},
{"data":{"name":"ym"},"mark":{"type":"tick","orient":"horizontal","size":13,"thickness":1.6,"color":"#000","xOffset":-6.5},"encoding":{"x":{"datum":150,"type":"quantitative","scale":{"domain":[0,150],"nice":false,"zero":false},"axis":null},"y":{"field":"v","type":"quantitative","scale":{"domain":[0,50],"nice":false,"zero":false},"axis":null}}},
{"data":{"name":"xt"},"mark":{"type":"tick","orient":"vertical","size":4,"thickness":1.4,"color":"#000","yOffset":2},"encoding":{"x":{"field":"v","type":"quantitative","scale":{"domain":[0,150],"nice":false,"zero":false},"axis":null},"y":{"datum":50,"type":"quantitative","scale":{"domain":[0,50],"nice":false,"zero":false},"axis":null}}},
{"data":{"name":"xt"},"mark":{"type":"tick","orient":"vertical","size":4,"thickness":1.4,"color":"#000","yOffset":-2},"encoding":{"x":{"field":"v","type":"quantitative","scale":{"domain":[0,150],"nice":false,"zero":false},"axis":null},"y":{"datum":0,"type":"quantitative","scale":{"domain":[0,50],"nice":false,"zero":false},"axis":null}}}
],"resolve":{"axis":{"x":"independent","y":"independent"}}}
],"spacing":49,"bounds":"flush"},
{"vconcat":[
{"width":472,"height":175,"layer":[
{"data":{"name":"coll"},"mark":{"type":"rect","fill":"#666666","stroke":"#000","strokeWidth":1},"encoding":{"x":{"field":"x1","type":"quantitative","scale":{"domain":[0,150],"nice":false,"zero":false},"axis":{"orient":"bottom","values":[0,50,100,150],"ticks":false,"domain":false,"grid":false,"labelPadding":4,"title":"mm","titleX":465,"titleY":21,"titleAlign":"center","titleBaseline":"middle"}},"x2":{"field":"x2"},"y":{"field":"y1","type":"quantitative","scale":{"domain":[0,50],"nice":false,"zero":false},"axis":{"orient":"left","values":[0,10,20,30,40,50],"ticks":false,"domain":false,"grid":false,"labelPadding":4,"title":"mm","titleAngle":0,"titleX":-14,"titleY":-12,"titleAlign":"center","titleBaseline":"middle"}},"y2":{"field":"y2"}}},
{"data":{"name":"rcO"},"mark":{"type":"line","interpolate":"catmull-rom","color":"#000","strokeWidth":1.2},"encoding":{"x":{"field":"x","type":"quantitative","scale":{"domain":[0,150],"nice":false,"zero":false},"axis":null},"y":{"field":"y","type":"quantitative","scale":{"domain":[0,50],"nice":false,"zero":false},"axis":null},"detail":{"field":"c","type":"nominal"},"order":{"value":null}}},
{"data":{"name":"lab"},"transform":[{"filter":"datum.p==='rc'&&datum.k==='big'"}],"mark":{"type":"text","align":"left","baseline":"alphabetic","font":"DejaVu Sans","fontSize":30,"color":"#000"},"encoding":{"x":{"field":"x","type":"quantitative","scale":{"domain":[0,150],"nice":false,"zero":false},"axis":null},"y":{"field":"y","type":"quantitative","scale":{"domain":[0,50],"nice":false,"zero":false},"axis":null},"text":{"field":"t"}}},
{"data":{"name":"lab"},"transform":[{"filter":"datum.p==='rc'&&datum.k==='name'"}],"mark":{"type":"text","align":"left","baseline":"alphabetic","font":"DejaVu Sans","fontSize":24,"color":"#000"},"encoding":{"x":{"field":"x","type":"quantitative","scale":{"domain":[0,150],"nice":false,"zero":false},"axis":null},"y":{"field":"y","type":"quantitative","scale":{"domain":[0,50],"nice":false,"zero":false},"axis":null},"text":{"field":"t"}}},
{"data":{"name":"yt"},"mark":{"type":"tick","orient":"horizontal","size":7,"thickness":1.4,"color":"#000","xOffset":3.5},"encoding":{"x":{"datum":0,"type":"quantitative","scale":{"domain":[0,150],"nice":false,"zero":false},"axis":null},"y":{"field":"v","type":"quantitative","scale":{"domain":[0,50],"nice":false,"zero":false},"axis":null}}},
{"data":{"name":"yt"},"mark":{"type":"tick","orient":"horizontal","size":7,"thickness":1.4,"color":"#000","xOffset":-3.5},"encoding":{"x":{"datum":150,"type":"quantitative","scale":{"domain":[0,150],"nice":false,"zero":false},"axis":null},"y":{"field":"v","type":"quantitative","scale":{"domain":[0,50],"nice":false,"zero":false},"axis":null}}},
{"data":{"name":"ym"},"mark":{"type":"tick","orient":"horizontal","size":13,"thickness":1.6,"color":"#000","xOffset":6.5},"encoding":{"x":{"datum":0,"type":"quantitative","scale":{"domain":[0,150],"nice":false,"zero":false},"axis":null},"y":{"field":"v","type":"quantitative","scale":{"domain":[0,50],"nice":false,"zero":false},"axis":null}}},
{"data":{"name":"ym"},"mark":{"type":"tick","orient":"horizontal","size":13,"thickness":1.6,"color":"#000","xOffset":-6.5},"encoding":{"x":{"datum":150,"type":"quantitative","scale":{"domain":[0,150],"nice":false,"zero":false},"axis":null},"y":{"field":"v","type":"quantitative","scale":{"domain":[0,50],"nice":false,"zero":false},"axis":null}}},
{"data":{"name":"xt"},"mark":{"type":"tick","orient":"vertical","size":4,"thickness":1.4,"color":"#000","yOffset":2},"encoding":{"x":{"field":"v","type":"quantitative","scale":{"domain":[0,150],"nice":false,"zero":false},"axis":null},"y":{"datum":50,"type":"quantitative","scale":{"domain":[0,50],"nice":false,"zero":false},"axis":null}}},
{"data":{"name":"xt"},"mark":{"type":"tick","orient":"vertical","size":4,"thickness":1.4,"color":"#000","yOffset":-2},"encoding":{"x":{"field":"v","type":"quantitative","scale":{"domain":[0,150],"nice":false,"zero":false},"axis":null},"y":{"datum":0,"type":"quantitative","scale":{"domain":[0,50],"nice":false,"zero":false},"axis":null}}}
],"resolve":{"axis":{"x":"independent","y":"independent"}}},
{"vconcat":[
{"width":472,"height":175,"layer":[
{"data":{"name":"coll"},"mark":{"type":"rect","fill":"#666666","stroke":"#000","strokeWidth":1},"encoding":{"x":{"field":"x1","type":"quantitative","scale":{"domain":[0,150],"nice":false,"zero":false},"axis":{"orient":"bottom","values":[0,50,100,150],"ticks":false,"domain":false,"grid":false,"labelPadding":4,"title":"mm","titleX":465,"titleY":21,"titleAlign":"center","titleBaseline":"middle"}},"x2":{"field":"x2"},"y":{"field":"y1","type":"quantitative","scale":{"domain":[0,50],"nice":false,"zero":false},"axis":{"orient":"left","values":[0,10,20,30,40,50],"ticks":false,"domain":false,"grid":false,"labelPadding":4,"title":"mm","titleAngle":0,"titleX":-14,"titleY":-12,"titleAlign":"center","titleBaseline":"middle"}},"y2":{"field":"y2"}}},
{"data":{"name":"mrO"},"mark":{"type":"line","interpolate":"catmull-rom","color":"#000","strokeWidth":1.2},"encoding":{"x":{"field":"x","type":"quantitative","scale":{"domain":[0,150],"nice":false,"zero":false},"axis":null},"y":{"field":"y","type":"quantitative","scale":{"domain":[0,50],"nice":false,"zero":false},"axis":null},"detail":{"field":"c","type":"nominal"},"order":{"value":null}}},
{"data":{"name":"mrR"},"mark":{"type":"line","interpolate":"cardinal-closed","color":"#000","strokeWidth":1.2},"encoding":{"x":{"field":"x","type":"quantitative","scale":{"domain":[0,150],"nice":false,"zero":false},"axis":null},"y":{"field":"y","type":"quantitative","scale":{"domain":[0,50],"nice":false,"zero":false},"axis":null},"detail":{"field":"c","type":"nominal"},"order":{"value":null}}},
{"data":{"name":"lab"},"transform":[{"filter":"datum.p==='mr'&&datum.k==='big'"}],"mark":{"type":"text","align":"left","baseline":"alphabetic","font":"DejaVu Sans","fontSize":30,"color":"#000"},"encoding":{"x":{"field":"x","type":"quantitative","scale":{"domain":[0,150],"nice":false,"zero":false},"axis":null},"y":{"field":"y","type":"quantitative","scale":{"domain":[0,50],"nice":false,"zero":false},"axis":null},"text":{"field":"t"}}},
{"data":{"name":"lab"},"transform":[{"filter":"datum.p==='mr'&&datum.k==='name'"}],"mark":{"type":"text","align":"left","baseline":"alphabetic","font":"DejaVu Sans","fontSize":24,"color":"#000"},"encoding":{"x":{"field":"x","type":"quantitative","scale":{"domain":[0,150],"nice":false,"zero":false},"axis":null},"y":{"field":"y","type":"quantitative","scale":{"domain":[0,50],"nice":false,"zero":false},"axis":null},"text":{"field":"t"}}},
{"data":{"name":"yt"},"mark":{"type":"tick","orient":"horizontal","size":7,"thickness":1.4,"color":"#000","xOffset":3.5},"encoding":{"x":{"datum":0,"type":"quantitative","scale":{"domain":[0,150],"nice":false,"zero":false},"axis":null},"y":{"field":"v","type":"quantitative","scale":{"domain":[0,50],"nice":false,"zero":false},"axis":null}}},
{"data":{"name":"yt"},"mark":{"type":"tick","orient":"horizontal","size":7,"thickness":1.4,"color":"#000","xOffset":-3.5},"encoding":{"x":{"datum":150,"type":"quantitative","scale":{"domain":[0,150],"nice":false,"zero":false},"axis":null},"y":{"field":"v","type":"quantitative","scale":{"domain":[0,50],"nice":false,"zero":false},"axis":null}}},
{"data":{"name":"ym"},"mark":{"type":"tick","orient":"horizontal","size":13,"thickness":1.6,"color":"#000","xOffset":6.5},"encoding":{"x":{"datum":0,"type":"quantitative","scale":{"domain":[0,150],"nice":false,"zero":false},"axis":null},"y":{"field":"v","type":"quantitative","scale":{"domain":[0,50],"nice":false,"zero":false},"axis":null}}},
{"data":{"name":"ym"},"mark":{"type":"tick","orient":"horizontal","size":13,"thickness":1.6,"color":"#000","xOffset":-6.5},"encoding":{"x":{"datum":150,"type":"quantitative","scale":{"domain":[0,150],"nice":false,"zero":false},"axis":null},"y":{"field":"v","type":"quantitative","scale":{"domain":[0,50],"nice":false,"zero":false},"axis":null}}},
{"data":{"name":"xt"},"mark":{"type":"tick","orient":"vertical","size":4,"thickness":1.4,"color":"#000","yOffset":2},"encoding":{"x":{"field":"v","type":"quantitative","scale":{"domain":[0,150],"nice":false,"zero":false},"axis":null},"y":{"datum":50,"type":"quantitative","scale":{"domain":[0,50],"nice":false,"zero":false},"axis":null}}},
{"data":{"name":"xt"},"mark":{"type":"tick","orient":"vertical","size":4,"thickness":1.4,"color":"#000","yOffset":-2},"encoding":{"x":{"field":"v","type":"quantitative","scale":{"domain":[0,150],"nice":false,"zero":false},"axis":null},"y":{"datum":0,"type":"quantitative","scale":{"domain":[0,50],"nice":false,"zero":false},"axis":null}}}
],"resolve":{"axis":{"x":"independent","y":"independent"}}},
{"width":472,"height":175,"layer":[
{"data":{"name":"coll"},"mark":{"type":"rect","fill":"#666666","stroke":"#000","strokeWidth":1},"encoding":{"x":{"field":"x1","type":"quantitative","scale":{"domain":[0,150],"nice":false,"zero":false},"axis":{"orient":"bottom","values":[0,50,100,150],"ticks":false,"domain":false,"grid":false,"labelPadding":4,"title":"mm","titleX":465,"titleY":21,"titleAlign":"center","titleBaseline":"middle"}},"x2":{"field":"x2"},"y":{"field":"y1","type":"quantitative","scale":{"domain":[0,50],"nice":false,"zero":false},"axis":{"orient":"left","values":[0,10,20,30,40,50],"ticks":false,"domain":false,"grid":false,"labelPadding":4,"title":"mm","titleAngle":0,"titleX":-14,"titleY":-12,"titleAlign":"center","titleBaseline":"middle"}},"y2":{"field":"y2"}}},
{"data":{"name":"fdO"},"mark":{"type":"line","interpolate":"catmull-rom","color":"#000","strokeWidth":1.2},"encoding":{"x":{"field":"x","type":"quantitative","scale":{"domain":[0,150],"nice":false,"zero":false},"axis":null},"y":{"field":"y","type":"quantitative","scale":{"domain":[0,50],"nice":false,"zero":false},"axis":null},"detail":{"field":"c","type":"nominal"},"order":{"value":null}}},
{"data":{"name":"fdR"},"mark":{"type":"line","interpolate":"cardinal-closed","color":"#000","strokeWidth":1.2},"encoding":{"x":{"field":"x","type":"quantitative","scale":{"domain":[0,150],"nice":false,"zero":false},"axis":null},"y":{"field":"y","type":"quantitative","scale":{"domain":[0,50],"nice":false,"zero":false},"axis":null},"detail":{"field":"c","type":"nominal"},"order":{"value":null}}},
{"data":{"name":"lab"},"transform":[{"filter":"datum.p==='fd'&&datum.k==='big'"}],"mark":{"type":"text","align":"left","baseline":"alphabetic","font":"DejaVu Sans","fontSize":30,"color":"#000"},"encoding":{"x":{"field":"x","type":"quantitative","scale":{"domain":[0,150],"nice":false,"zero":false},"axis":null},"y":{"field":"y","type":"quantitative","scale":{"domain":[0,50],"nice":false,"zero":false},"axis":null},"text":{"field":"t"}}},
{"data":{"name":"lab"},"transform":[{"filter":"datum.p==='fd'&&datum.k==='name'"}],"mark":{"type":"text","align":"left","baseline":"alphabetic","font":"DejaVu Sans","fontSize":24,"color":"#000"},"encoding":{"x":{"field":"x","type":"quantitative","scale":{"domain":[0,150],"nice":false,"zero":false},"axis":null},"y":{"field":"y","type":"quantitative","scale":{"domain":[0,50],"nice":false,"zero":false},"axis":null},"text":{"field":"t"}}},
{"data":{"name":"yt"},"mark":{"type":"tick","orient":"horizontal","size":7,"thickness":1.4,"color":"#000","xOffset":3.5},"encoding":{"x":{"datum":0,"type":"quantitative","scale":{"domain":[0,150],"nice":false,"zero":false},"axis":null},"y":{"field":"v","type":"quantitative","scale":{"domain":[0,50],"nice":false,"zero":false},"axis":null}}},
{"data":{"name":"yt"},"mark":{"type":"tick","orient":"horizontal","size":7,"thickness":1.4,"color":"#000","xOffset":-3.5},"encoding":{"x":{"datum":150,"type":"quantitative","scale":{"domain":[0,150],"nice":false,"zero":false},"axis":null},"y":{"field":"v","type":"quantitative","scale":{"domain":[0,50],"nice":false,"zero":false},"axis":null}}},
{"data":{"name":"ym"},"mark":{"type":"tick","orient":"horizontal","size":13,"thickness":1.6,"color":"#000","xOffset":6.5},"encoding":{"x":{"datum":0,"type":"quantitative","scale":{"domain":[0,150],"nice":false,"zero":false},"axis":null},"y":{"field":"v","type":"quantitative","scale":{"domain":[0,50],"nice":false,"zero":false},"axis":null}}},
{"data":{"name":"ym"},"mark":{"type":"tick","orient":"horizontal","size":13,"thickness":1.6,"color":"#000","xOffset":-6.5},"encoding":{"x":{"datum":150,"type":"quantitative","scale":{"domain":[0,150],"nice":false,"zero":false},"axis":null},"y":{"field":"v","type":"quantitative","scale":{"domain":[0,50],"nice":false,"zero":false},"axis":null}}},
{"data":{"name":"xt"},"mark":{"type":"tick","orient":"vertical","size":4,"thickness":1.4,"color":"#000","yOffset":2},"encoding":{"x":{"field":"v","type":"quantitative","scale":{"domain":[0,150],"nice":false,"zero":false},"axis":null},"y":{"datum":50,"type":"quantitative","scale":{"domain":[0,50],"nice":false,"zero":false},"axis":null}}},
{"data":{"name":"xt"},"mark":{"type":"tick","orient":"vertical","size":4,"thickness":1.4,"color":"#000","yOffset":-2},"encoding":{"x":{"field":"v","type":"quantitative","scale":{"domain":[0,150],"nice":false,"zero":false},"axis":null},"y":{"datum":0,"type":"quantitative","scale":{"domain":[0,50],"nice":false,"zero":false},"axis":null}}}
],"resolve":{"axis":{"x":"independent","y":"independent"}}}
],"spacing":45,"bounds":"flush"}
],"spacing":50,"bounds":"flush"}
],
"config":{
"view":{"stroke":"#000","strokeWidth":1.2},
"axis":{"labelFont":"DejaVu Sans","labelFontSize":9,"labelFontWeight":"bold","labelColor":"#000","tickColor":"#000","tickWidth":1,"titleFont":"DejaVu Sans","titleFontSize":13,"titleFontWeight":"normal","titleColor":"#000","labelFlush":false}
}
}
